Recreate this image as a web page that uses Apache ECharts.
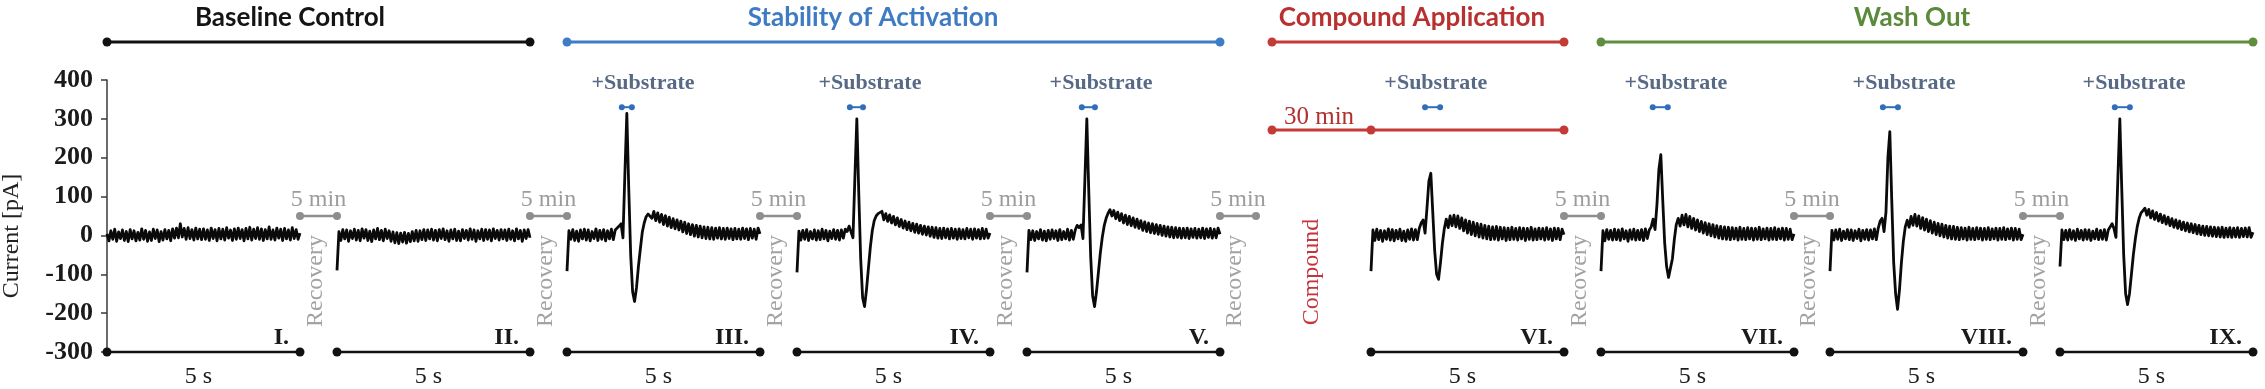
<!DOCTYPE html>
<html><head><meta charset="utf-8">
<script src="https://cdn.jsdelivr.net/npm/echarts@6/dist/echarts.min.js"></script>
<style>html,body{margin:0;padding:0;background:#fff}#c{width:2265px;height:389px}</style>
</head><body><div id="c"></div>
<script>
// ---------------- DATA ----------------
const TIME = [0,0.05,0.1,0.15,0.2,0.25,0.3,0.35,0.4,0.45,0.5,0.55,0.6,0.65,0.7,0.75,0.8,0.85,0.9,0.95,1,1.05,1.1,1.15,1.2,1.25,1.3,1.35,1.4,1.45,1.5,1.55,1.6,1.65,1.7,1.75,1.8,1.85,1.9,1.95,2,2.05,2.1,2.15,2.2,2.25,2.3,2.35,2.4,2.45,2.5,2.55,2.6,2.65,2.7,2.75,2.8,2.85,2.9,2.95,3,3.05,3.1,3.15,3.2,3.25,3.3,3.35,3.4,3.45,3.5,3.55,3.6,3.65,3.7,3.75,3.8,3.85,3.9,3.95,4,4.05,4.1,4.15,4.2,4.25,4.3,4.35,4.4,4.45,4.5,4.55,4.6,4.65,4.7,4.75,4.8,4.85,4.9,4.95,5];

const SEGMENT_NAMES = ['I.','II.','III.','IV.','V.','VI.','VII.','VIII.','IX.'];

const TRACE_I = [4,-14,12,-10,16,-15,9,-8,14,-13, 10,-16,15,-9,12,-14,8,-12,17,-10, 13,-15,9,-13,16,-8,14,-16,10,-12, 15,-9,13,-14,17,-7,19,-6,30,-4, 18,-10,20,-8,15,-12,19,-9,16,-11, 17,-10,14,-13,19,-8,15,-14,18,-9, 16,-12,20,-7,14,-13,17,-10,19,-8, 15,-14,18,-9,21,-12,16,-8,20,-10, 17,-13,15,-9,22,-10,14,-12,19,-7, 16,-13,18,-9,14,-12,20,-8,15,-10, 6];
const TRACE_II = [-90, 10,-13,15,-9,14,-15,12,-8,16, -12,13,-14,17,-7,15,-13,11,-16,14, -9,18,-11,13,-14,16,-8,12,-15,9, -19,7,-21,6,-17,8,-20,5,-16,10, -14,13,-15,12,-11,15,-13,14,-9,16, -12,13,-14,15,-8,17,-11,12,-15,14, -9,16,-13,11,-14,15,-8,13,-12,17, -10,14,-15,12,-9,16,-13,15,-10,14, -14,17,-8,13,-12,15,-9,14,-13,16, -10,12,-14,17,-9,13,-15,14,-8,15, -6];
const TRACE_III = [-92, 12,-10,15,-13,11,-15,14,-9,16, -12,14,-14,10,-8,17,-13,13,-10,15, -14,12,-9,16,-11,14,18,24,30,-6, 160,314,120,-50,-145,-170,-135,-80,-35,8, 32,48,55,60,44,62,38,58,34,54, 28,51,24,47,20,43,17,40,14,37, 9,34,5,30,2,28,-2,26,-4,24, -6,22,-8,21,-9,20,-10,19,-7,20, -9,18,-10,19,-8,17,-11,18,-9,16, -10,19,-8,17,-11,18,-7,16,-10,19, 4];
const TRACE_IV = [-95, 11,-12,13,-10,15,-13,10,-9,14, -12,12,-11,16,-9,13,-14,11,-8,15, -10,13,-12,14,-7,16,10,24,28,-6, 150,300,110,-60,-160,-183,-140,-85,-30,12, 38,50,56,52,62,40,56,36,53,32, 49,27,45,23,41,19,37,15,34,12, 31,8,29,6,26,3,24,1,22,-2, 21,-5,20,-7,18,-8,19,-6,17,-9, 18,-7,16,-10,17,-8,15,-9,18,-6, 16,-10,17,-7,15,-9,18,-8,16,-7, 6];
const TRACE_V = [-95, 13,-11,12,-13,10,-9,15,-12,11, -14,13,-10,14,-8,12,-13,15,-11,10, -9,16,-12,13,-10,14,26,20,27,-8, 145,300,115,-55,-155,-183,-145,-95,-45,-5, 25,44,57,66,50,64,43,60,38,56, 32,52,28,49,25,45,21,42,18,38, 13,35,10,32,7,30,5,28,3,26, 0,24,-2,22,-4,21,-6,20,-5,19, -7,18,-6,19,-8,17,-5,18,-7,16, -6,19,-8,17,-5,18,-7,16,-6,19, 3];
const TRACE_VI = [-92, 14,-13,16,-11,13,-15,12,-10,17, -12,15,-14,13,-9,16,-13,11,-15,14, -10,17,-12,15,-11,18,32,40,6,70, 140,160,60,-40,-100,-113,-70,-20,18,42, 20,50,25,52,22,50,18,45,12,40, 6,37,2,34,-1,31,-4,29,-7,26, -9,24,-11,22,-10,23,-12,21,-9,20, -13,19,-11,21,-10,18,-12,20,-9,19, -13,18,-10,21,-12,17,-11,19,-9,18, -12,20,-10,17,-13,19,-9,18,-11,16, 2];
const TRACE_VII = [-92, 12,-14,15,-10,13,-12,16,-11,14, -13,17,-9,12,-15,14,-10,16,-12,13, -11,15,-13,17,-8,14,22,42,15,80, 170,208,90,-20,-80,-108,-113,-60,-10,28, 44,24,52,27,54,22,49,18,44,14, 40,10,36,6,33,2,30,-1,28,-4, 25,-7,23,-9,22,-10,21,-11,20,-9, 19,-12,21,-10,18,-11,20,-9,19,-12, 18,-10,21,-11,17,-9,19,-12,18,-10, 20,-11,17,-9,19,-12,18,-10,16,-11, 4];
const TRACE_VIII = [-92, 13,-12,14,-10,16,-13,11,-9,15, -11,14,-13,12,-8,16,-14,13,-10,15, -12,14,-9,17,-11,19,37,44,10,60, 200,267,90,-70,-150,-190,-140,-70,-15,22, 39,21,49,26,54,24,50,18,46,14, 42,10,38,6,34,2,31,-1,29,-4, 26,-7,24,-9,23,-10,21,-11,20,-9, 19,-12,21,-10,18,-11,20,-9,19,-12, 18,-10,20,-11,17,-9,19,-12,18,-10, 20,-11,17,-9,19,-12,18,-10,16,-11, 3];
const TRACE_IX = [-80, 14,-11,13,-12,15,-10,12,-13,16, -9,13,-12,15,-10,14,-13,11,-9,16, -11,13,-10,15,-12,14,14,30,17,-5, 150,300,120,-50,-150,-178,-150,-100,-50,-10, 22,44,58,64,70,52,67,45,63,41, 59,37,55,33,51,29,47,25,43,21, 40,18,37,15,34,12,32,9,30,7, 28,4,26,2,24,0,23,-1,22,-2, 21,-3,20,-4,21,-5,19,-4,20,-5, 19,-4,20,-5,18,-3,19,-4,20,-5, 8];
const TRACES = [TRACE_I, TRACE_II, TRACE_III, TRACE_IV, TRACE_V, TRACE_VI, TRACE_VII, TRACE_VIII, TRACE_IX];

const SUBSTRATE_WINDOW = [null, null, [1.42,1.68], [1.37,1.71], [1.42,1.76], [1.40,1.79], [1.34,1.73], [1.37,1.76], [1.42,1.81]];
const SUBSTRATE_LABEL_T = [null, null, 1.97, 1.89, 1.92, 1.68, 1.94, 1.92, 1.92];
const SUBSTRATE_MARK_Y = 330, SUBSTRATE_LABEL_Y = 392;
const SEGMENT_DURATION = [0, 5];
const Y_MIN = -300, Y_MAX = 400, Y_STEP = 100;

const PHASES = [
  {name:'Baseline Control', color:'#111111', text:'#141414'},
  {name:'Stability of Activation', color:'#3d7cc6', text:'#3f7bc3'},
  {name:'Compound Application', color:'#c33a36', text:'#b8302f'},
  {name:'Wash Out', color:'#5f8f3e', text:'#5b8a3a'}
];
const GAP_TOP = '5 min', GAP_SIDE = 'Recovery', COMPOUND_TIME = '30 min', COMPOUND_LABEL = 'Compound', SCALE_LABEL = '5 s', Y_NAME = 'Current [pA]', SUBSTRATE_TEXT = '+Substrate';

// ---------------- LAYOUT ----------------
const SEG_LEFT = [107, 337, 567, 797, 1027, 1371, 1601, 1830, 2060];
const SEG_W = 193, GRID_TOP = 80, GRID_H = 272;
const TITLE_X = [290, 873, 1412, 1912];
const SERIF = 'Liberation Serif';
const SANS = 'Lato';

const grids = [], xAxes = [], yAxes = [], series = [];
TRACES.forEach((vals, k) => {
  grids.push({left: SEG_LEFT[k], top: GRID_TOP, width: SEG_W, height: GRID_H});
  xAxes.push({type:'value', gridIndex:k, min:SEGMENT_DURATION[0], max:SEGMENT_DURATION[1], show:false});
  yAxes.push({
    type:'value', gridIndex:k, min:Y_MIN, max:Y_MAX, interval:Y_STEP, show:k===0,
    splitLine:{show:false},
    axisLine:{show:true, lineStyle:{color:'#3a3a3a', width:1.5}},
    axisTick:{show:true, length:6, lineStyle:{color:'#3a3a3a', width:1.5}},
    axisLabel:{fontFamily:SERIF, fontWeight:'bold', fontSize:26, color:'#1a1a1a', margin:14}
  });
  series.push({
    type:'line', xAxisIndex:k, yAxisIndex:k, silent:true, clip:false,
    data: TIME.map((t, i) => [t, vals[i]]),
    showSymbol:false, symbol:'none',
    lineStyle:{color:'#0a0a0a', width:2.8, join:'round'}
  });
  series.push({
    type:'line', xAxisIndex:k, yAxisIndex:k, silent:true, clip:false,
    data:[[SEGMENT_DURATION[0], Y_MIN], [SEGMENT_DURATION[1], Y_MIN]],
    symbol:'circle', symbolSize:9, showSymbol:true,
    itemStyle:{color:'#111'}, lineStyle:{color:'#111', width:2.5}
  });
  if (SUBSTRATE_WINDOW[k]) {
    const w = SUBSTRATE_WINDOW[k];
    series.push({
      type:'line', xAxisIndex:k, yAxisIndex:k, silent:true, clip:false,
      data:[[w[0], SUBSTRATE_MARK_Y], [w[1], SUBSTRATE_MARK_Y]],
      symbol:'circle', symbolSize:6, showSymbol:true,
      itemStyle:{color:'#2f6fba'}, lineStyle:{color:'#2f6fba', width:2}
    });
    series.push({
      type:'scatter', xAxisIndex:k, yAxisIndex:k, silent:true, clip:false,
      data:[[SUBSTRATE_LABEL_T[k], SUBSTRATE_LABEL_Y]], symbolSize:0,
      label:{show:true, position:'inside', formatter:SUBSTRATE_TEXT,
        fontFamily:SERIF, fontWeight:'bold', fontSize:22, color:'#2d4466'}
    });
  }
});

// ---------------- GRAPHIC ANNOTATIONS ----------------
const G = [];
function txt(x, y, text, size, family, weight, fill, rot, align) {
  G.push({type:'text', x:x, y:y, rotation: rot || 0, silent:true,
    style:{text:text, fontSize:size, fontFamily:family, fontWeight:weight, fill:fill,
      align:align || 'center', verticalAlign:'middle',
      textAlign:align || 'center', textVerticalAlign:'middle'}});
}
function bar(x1, x2, y, color, w, r, mids) {
  G.push({type:'line', silent:true, shape:{x1:x1, y1:y, x2:x2, y2:y}, style:{stroke:color, lineWidth:w}});
  [x1, x2].concat(mids || []).forEach(cx => G.push({type:'circle', silent:true, shape:{cx:cx, cy:y, r:r}, style:{fill:color}}));
}
const segEnd = k => SEG_LEFT[k] + SEG_W;
const HEADER_Y = 42, TITLE_Y = 18;
const headerSpans = [[SEG_LEFT[0], segEnd(1)], [SEG_LEFT[2], segEnd(4)], [1272, segEnd(5)], [SEG_LEFT[6], segEnd(8)]];
PHASES.forEach((p, i) => {
  const s = headerSpans[i];
  bar(s[0], s[1], HEADER_Y, p.color, 3, 4.5);
  txt(TITLE_X[i], TITLE_Y, p.name, 26, SANS, 'bold', p.text);
});
bar(1272, segEnd(5), 130, '#c33a36', 3, 4.5, [SEG_LEFT[5]]);
txt(1319, 117, COMPOUND_TIME, 25, SERIF, 'normal', '#b0302e');
txt(1312, 272, COMPOUND_LABEL, 24, SERIF, 'normal', '#c3343c', Math.PI / 2);
[0,1,2,3,4,5,6,7].forEach(k => {
  const x1 = segEnd(k), x2 = (k === 4) ? x1 + 36 : SEG_LEFT[k + 1];
  bar(x1, x2, 216, '#8e8e8e', 2.5, 4);
  txt((x1 + x2) / 2, 200, GAP_TOP, 24, SERIF, 'normal', '#9c9c9c');
  txt((x1 + x2) / 2 - 3, 281, GAP_SIDE, 24, SERIF, 'normal', '#a3a3a3', Math.PI / 2);
});
SEGMENT_NAMES.forEach((n, k) => {
  txt(segEnd(k) - 11, 338, n, 24, SERIF, 'bold', '#1a1a1a', 0, 'right');
  txt(SEG_LEFT[k] + SEG_W / 2 - 5, 377, SCALE_LABEL, 24, SERIF, 'normal', '#1a1a1a');
});
txt(12, 236, Y_NAME, 24, SERIF, 'normal', '#222', Math.PI / 2);

const chart = echarts.init(document.getElementById('c'));
chart.setOption({
  animation:false,
  backgroundColor:'#ffffff',
  grid:grids, xAxis:xAxes, yAxis:yAxes, series:series,
  graphic:{elements:G}
});
</script></body></html>
